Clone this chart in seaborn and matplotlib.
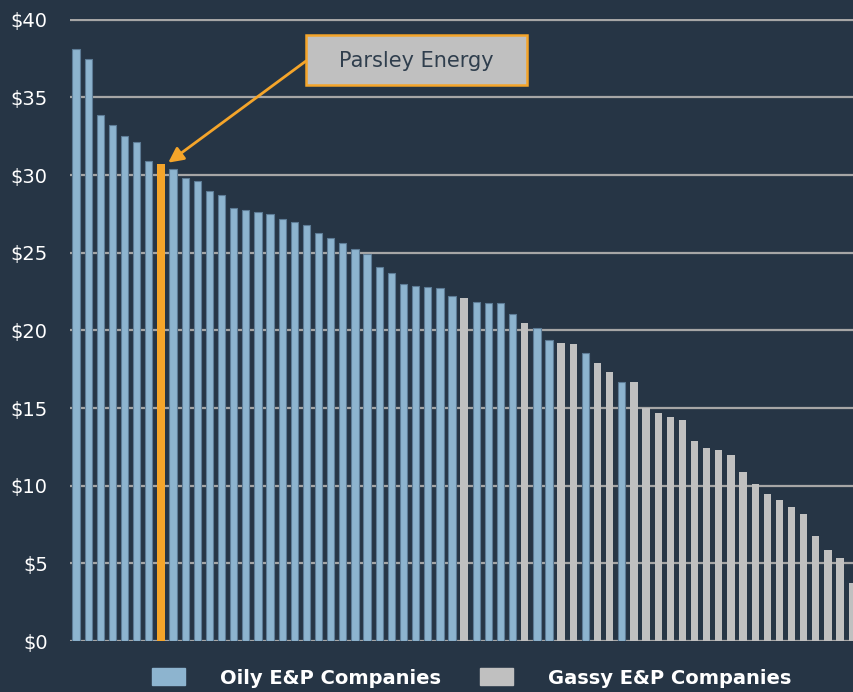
import matplotlib
matplotlib.use("Agg")
import matplotlib.pyplot as plt
import pandas as pd
import seaborn as sns
from matplotlib.patches import Patch, Rectangle

# breakeven values per company, sorted high to low
values = [38.1, 37.5, 33.9, 33.2, 32.5, 32.1, 30.9, 30.7, 30.4, 29.8,
          29.6, 29.0, 28.7, 27.9, 27.75, 27.6, 27.5, 27.15, 26.95, 26.8,
          26.3, 25.95, 25.6, 25.25, 24.9, 24.1, 23.7, 23.0, 22.85, 22.8,
          22.75, 22.2, 22.1, 21.85, 21.75, 21.75, 21.05, 20.45, 20.15, 19.4,
          19.2, 19.15, 18.55, 17.9, 17.35, 16.65, 16.65, 15.0, 14.65, 14.45,
          14.2, 12.9, 12.4, 12.3, 12.0, 10.85, 10.1, 9.45, 9.1, 8.6,
          8.15, 6.75, 5.85, 5.35, 3.75]
gassy_idx = [32, 37, 40, 41, 43, 44] + list(range(46, 65))
highlight_idx = 7
highlight_name = "Parsley Energy"
yticks = [0, 5, 10, 15, 20, 25, 30, 35, 40]
legend_labels = ["Oily E&P Companies", "Gassy E&P Companies"]

BG = "#263545"
BLUE = "#8db4cf"
GRAY = "#c0c0c0"
ORANGE = "#f5a52a"

kinds = []
for i in range(len(values)):
    if i == highlight_idx:
        kinds.append("Highlight")
    elif i in gassy_idx:
        kinds.append("Gassy")
    else:
        kinds.append("Oily")
df = pd.DataFrame({"idx": range(len(values)), "value": values, "kind": kinds})

sns.set_style("dark")
plt.rcParams["font.family"] = ["DejaVu Sans"]

fig = plt.figure(figsize=(8.54, 6.92), dpi=100, facecolor=BG)
ax = fig.add_axes([70 / 854, 51 / 692, 1 - 70 / 854, 622 / 692])
ax.set_facecolor(BG)

sns.barplot(data=df, x="idx", y="value", hue="kind",
            palette={"Oily": BLUE, "Gassy": GRAY, "Highlight": ORANGE},
            dodge=False, width=0.6, saturation=1, legend=False, ax=ax, zorder=3)

# outline the blue bars slightly darker
for bar in ax.patches:
    fc = bar.get_facecolor()
    if abs(fc[0] - 0x8d / 255) < 0.02 and abs(fc[2] - 0xcf / 255) < 0.02:
        bar.set_edgecolor("#5d7c96")
        bar.set_linewidth(0.8)
    else:
        bar.set_linewidth(0)

ax.set_xlim(-0.5, 64.15)
ax.set_ylim(0, 40.05)
ax.set_yticks(yticks)
ax.set_yticklabels([f"${v}" for v in yticks])
ax.set_xticks([])
ax.set_xlabel("")
ax.set_ylabel("")
ax.yaxis.grid(True, color="#a6a6a6", linewidth=1.6, zorder=1)
ax.set_axisbelow(True)
ax.tick_params(axis="y", length=0, pad=16, labelsize=14, labelcolor="white")
for s in ax.spines.values():
    s.set_visible(False)

# callout box for the highlighted company
fig.patches.append(Rectangle((306 / 854, (692 - 84.5) / 692), 221 / 854, 49.5 / 692,
                             transform=fig.transFigure, facecolor=GRAY,
                             edgecolor=ORANGE, linewidth=1.8, zorder=5))
fig.text(416 / 854, (692 - 61) / 692, highlight_name, ha="center", va="center",
         fontsize=15, color="#2f3e4d", zorder=6)
ax.annotate("", xy=(highlight_idx + 0.6, values[highlight_idx] + 0.1),
            xytext=(306 / 854, (692 - 61) / 692), textcoords="figure fraction",
            arrowprops=dict(arrowstyle="-|>,head_length=0.9,head_width=0.45",
                            color=ORANGE, lw=2, shrinkA=0, shrinkB=0),
            zorder=5)

handles = [Patch(facecolor=BLUE, edgecolor=BLUE), Patch(facecolor=GRAY, edgecolor=GRAY)]
fig.legend(handles, legend_labels, loc="center", bbox_to_anchor=(472 / 854, 14 / 692),
           ncol=2, frameon=False, handlelength=1.7, handleheight=0.95,
           handletextpad=1.8, columnspacing=2.0, borderpad=0,
           prop={"weight": "bold", "size": 14}, labelcolor="white")

fig.savefig("out.png", dpi=100, facecolor=BG)
